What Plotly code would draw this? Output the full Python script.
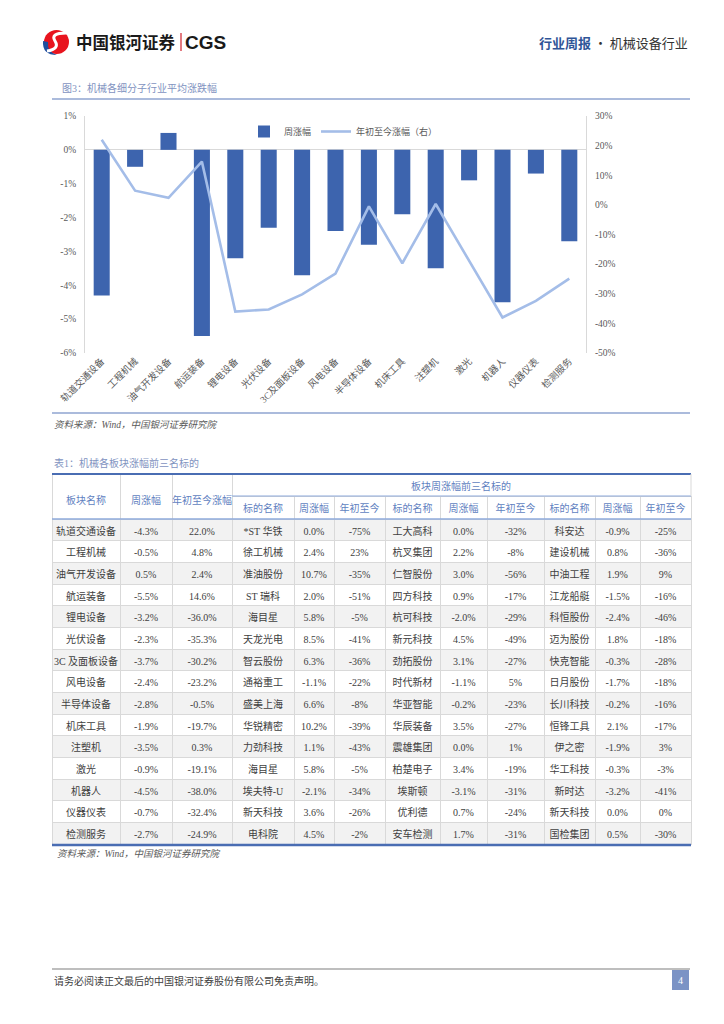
import plotly.graph_objects as go

# page is drawn inside the default 8px body margin of the html page
OFF = 8
W, H = 724 - OFF, 1024 - OFF
def px(x): return (x - OFF) / W
def py(y): return 1 - (y - OFF) / H

FONT = "Liberation Serif, Noto Sans CJK SC"
CJK = "Noto Sans CJK SC"
NB = "\u00a0"

# ---------------- data ----------------
sectors = ["轨道交通设备", "工程机械", "油气开发设备", "航运装备", "锂电设备", "光伏设备",
           "3C及面板设备", "风电设备", "半导体设备", "机床工具", "注塑机", "激光",
           "机器人", "仪器仪表", "检测服务"]
sector_table_names = ["轨道交通设备", "工程机械", "油气开发设备", "航运装备", "锂电设备", "光伏设备",
                      "3C" + NB + "及面板设备", "风电设备", "半导体设备", "机床工具", "注塑机", "激光",
                      "机器人", "仪器仪表", "检测服务"]
week_chg = [-4.3, -0.5, 0.5, -5.5, -3.2, -2.3, -3.7, -2.4, -2.8, -1.9, -3.5, -0.9, -4.5, -0.7, -2.7]
ytd_chg = [22.0, 4.8, 2.4, 14.6, -36.0, -35.3, -30.2, -23.2, -0.5, -19.7, 0.3, -19.1, -38.0, -32.4, -24.9]

top1_name = ["*ST" + NB + "华铁", "徐工机械", "准油股份", "ST" + NB + "瑞科", "海目星", "天龙光电", "智云股份", "通裕重工",
             "盛美上海", "华锐精密", "力劲科技", "海目星", "埃夫特-U", "新天科技", "电科院"]
top1_week = ["0.0%", "2.4%", "10.7%", "2.0%", "5.8%", "8.5%", "6.3%", "-1.1%", "6.6%", "10.2%",
             "1.1%", "5.8%", "-2.1%", "3.6%", "4.5%"]
top1_ytd = ["-75%", "23%", "-35%", "-51%", "-5%", "-41%", "-36%", "-22%", "-8%", "-39%",
            "-43%", "-5%", "-34%", "-26%", "-2%"]

top2_name = ["工大高科", "杭叉集团", "仁智股份", "四方科技", "杭可科技", "新元科技", "劲拓股份", "时代新材",
             "华亚智能", "华辰装备", "震雄集团", "柏楚电子", "埃斯顿", "优利德", "安车检测"]
top2_week = ["0.0%", "2.2%", "3.0%", "0.9%", "-2.0%", "4.5%", "3.1%", "-1.1%", "-0.2%", "3.5%",
             "0.0%", "3.4%", "-3.1%", "0.7%", "1.7%"]
top2_ytd = ["-32%", "-8%", "-56%", "-17%", "-29%", "-49%", "-27%", "5%", "-23%", "-27%",
            "1%", "-19%", "-31%", "-24%", "-31%"]

top3_name = ["科安达", "建设机械", "中油工程", "江龙船艇", "科恒股份", "迈为股份", "快克智能", "日月股份",
             "长川科技", "恒锋工具", "伊之密", "华工科技", "新时达", "新天科技", "国检集团"]
top3_week = ["-0.9%", "0.8%", "1.9%", "-1.5%", "-2.4%", "1.8%", "-0.3%", "-1.7%", "-0.2%", "2.1%",
             "-1.9%", "-0.3%", "-3.2%", "0.0%", "0.5%"]
top3_ytd = ["-25%", "-36%", "9%", "-16%", "-46%", "-18%", "-28%", "-18%", "-16%", "-17%",
            "3%", "-3%", "-41%", "0%", "-30%"]

left_ticks = [1, 0, -1, -2, -3, -4, -5, -6]
right_ticks = [30, 20, 10, 0, -10, -20, -30, -40, -50]

# ---------------- colours ----------------
BAR = "#3d64ae"
LINE = "#a4bde8"
AXIS = "#d9d9d9"
TXT = "#595959"
HDR = "#5f7fbf"
TITLE = "#7f93bf"
RULE = "#8fa4d0"

fig = go.Figure()

# ---------------- chart ----------------
fig.add_trace(go.Bar(x=sectors, y=week_chg, name="周涨幅", marker=dict(color=BAR, line=dict(width=0)),
                     yaxis="y"))
fig.add_trace(go.Scatter(x=sectors, y=ytd_chg, name="年初至今涨幅（右）", mode="lines",
                         line=dict(color=LINE, width=2.6), yaxis="y2"))

# ---------------- table ----------------
n = len(sectors)
row_fill = ["#f2f2f2" if i % 2 == 0 else "#ffffff" for i in range(n)]
cell_font = dict(family=FONT, size=10, color="#404040")
hdr_font = dict(family=FONT, size=10, color=HDR)

row_h = 21.67
tbl_top, tbl_bot = 474, 845

fig.add_trace(go.Table(
    domain=dict(x=[px(52), px(232)], y=[py(tbl_bot + 4), py(tbl_top)]),
    columnwidth=[68, 52, 60],
    header=dict(values=[NB + "<br>板块名称", NB + "<br>周涨幅", NB + "<br>年初至今涨幅"], height=45,
                fill_color="white", line=dict(color=AXIS, width=1), font=hdr_font, align="center"),
    cells=dict(values=[sector_table_names,
                       [f"{v:.1f}%" for v in week_chg],
                       [f"{v:.1f}%" for v in ytd_chg]],
               height=row_h, fill_color=[row_fill] * 3, line=dict(color=AXIS, width=1),
               font=cell_font, align="center"),
))

sub_hdr = ["标的名称", "周涨幅", "年初至今"] * 3
fig.add_trace(go.Table(
    domain=dict(x=[px(232), px(691)], y=[py(tbl_bot + 4), py(496)]),
    columnwidth=[62, 40, 51, 55, 47, 57, 51, 45, 51],
    header=dict(values=sub_hdr, height=23, fill_color="white", line=dict(color=AXIS, width=1),
                font=hdr_font, align="center"),
    cells=dict(values=[top1_name, top1_week, top1_ytd, top2_name, top2_week, top2_ytd,
                       top3_name, top3_week, top3_ytd],
               height=row_h, fill_color=[row_fill] * 9, line=dict(color=AXIS, width=1),
               font=cell_font, align="center"),
))

# ---------------- shapes ----------------
shapes = []
def hline(y, x0, x1, color, width):
    shapes.append(dict(type="line", xref="paper", yref="paper", x0=px(x0), x1=px(x1),
                       y0=py(y), y1=py(y), line=dict(color=color, width=width), layer="above"))

hline(99, 52, 690, RULE, 1.5)       # under chart title
hline(413, 52, 690, RULE, 1.5)      # under chart
hline(tbl_top, 52, 691, "#4a6db3", 2)
hline(496, 232, 691, "#8eaadb", 1.2)
hline(519, 52, 691, "#8eaadb", 1.5)
hline(tbl_bot, 52, 691, "#4a6db3", 2.5)
hline(969, 52, 690, "#7f7f7f", 1.2)
shapes.append(dict(type="line", xref="paper", yref="paper", x0=px(691), x1=px(691), y0=py(474), y1=py(496),
                   line=dict(color=AXIS, width=1), layer="above"))

# page number box
shapes.append(dict(type="rect", xref="paper", yref="paper", x0=px(672), x1=px(689), y0=py(990), y1=py(970),
                   fillcolor="#7b93c5", line=dict(width=0), layer="above"))

# logo
shapes.append(dict(type="circle", xref="paper", yref="paper", x0=px(44), x1=px(69), y0=py(54), y1=py(30),
                   fillcolor="#e8141e", line=dict(width=0), layer="above"))
shapes.append(dict(type="path", xref="paper", yref="paper",
                   path=f"M {px(43)},{py(41)} Q {px(42)},{py(55)} {px(57)},{py(55)} "
                        f"Q {px(47)},{py(52)} {px(48)},{py(42)} Z",
                   fillcolor="#1f4e9e", line=dict(width=0), layer="above"))
shapes.append(dict(type="path", xref="paper", yref="paper",
                   path=f"M {px(66)},{py(33)} Q {px(50)},{py(33)} {px(55)},{py(41)} "
                        f"Q {px(60)},{py(49)} {px(47)},{py(51)}",
                   line=dict(color="white", width=3), layer="above"))
shapes.append(dict(type="line", xref="paper", yref="paper", x0=px(181), x1=px(181), y0=py(33), y1=py(51),
                   line=dict(color="#d0202a", width=1.2), layer="above"))

# ---------------- annotations ----------------
ann = []
def text(x, y, s, size=10, color=TXT, xanchor="left", family=FONT, **kw):
    ann.append(dict(x=px(x), y=py(y), xref="paper", yref="paper", text=s, showarrow=False,
                    xanchor=xanchor, yanchor="middle", font=dict(size=size, color=color, family=family), **kw))

text(178, 42, "<b>中国银河证券</b>", size=16.5, color="#1a1a1a", family=CJK, xanchor="right")
text(183, 42, "<b>CGS</b>", size=19, color="#1a1a1a", family="Liberation Sans, Arial")
text(690, 42, "<b><span style='color:#2f5597'>行业周报</span></b> · 机械设备行业", size=13,
     color="#333333", xanchor="right", family=CJK)
text(60, 88, "图3：机械各细分子行业平均涨跌幅", size=10, color=TITLE)
text(52, 425, "<i>资料来源：Wind，中国银河证券研究院</i>", size=9.5, color=TXT)
text(52, 463, "表1：机械各板块涨幅前三名标的", size=10, color=TITLE)
text(461, 486, "板块周涨幅前三名标的", size=10, color=HDR, xanchor="center")
text(55, 853, "<i>资料来源：Wind，中国银河证券研究院</i>", size=9.5, color=TXT)
text(52, 981, "请务必阅读正文最后的中国银河证券股份有限公司免责声明。", size=10, color="#404040")
text(680.5, 980, "4", size=10, color="white", xanchor="center")

fig.update_layout(
    width=W, height=H, margin=dict(l=0, r=0, t=0, b=0, pad=0, autoexpand=False),
    paper_bgcolor="white", plot_bgcolor="white",
    font=dict(family=FONT, size=9, color=TXT),
    bargap=0.52,
    xaxis=dict(domain=[px(85), px(586)], type="category", showline=False, showgrid=False,
               ticks="", tickangle=-45, tickfont=dict(size=9.5, color=TXT, family=FONT),
               zeroline=False, fixedrange=True, automargin=False),
    yaxis=dict(domain=[py(353), py(116)], range=[-6, 1], tickvals=left_ticks,
               ticktext=[f"{v}%" for v in left_ticks], showgrid=False,
               zeroline=True, zerolinecolor=AXIS, zerolinewidth=1,
               showline=True, linecolor=AXIS, linewidth=1, ticks="",
               tickfont=dict(size=9.5, color=TXT), ticklabelstandoff=6, automargin=False),
    yaxis2=dict(overlaying="y", side="right", range=[-50, 30], tickvals=right_ticks,
                ticktext=[f"{v}%" for v in right_ticks], showgrid=False, zeroline=False,
                showline=True, linecolor=AXIS, linewidth=1, ticks="",
                tickfont=dict(size=9.5, color=TXT), ticklabelstandoff=6, automargin=False),
    legend=dict(orientation="h", x=px(244), y=py(117), xanchor="left", yanchor="top",
                bgcolor="rgba(0,0,0,0)", font=dict(size=9, color=TXT), itemwidth=30,
                traceorder="normal"),
    shapes=shapes, annotations=ann,
)

fig.write_html("out.html")
